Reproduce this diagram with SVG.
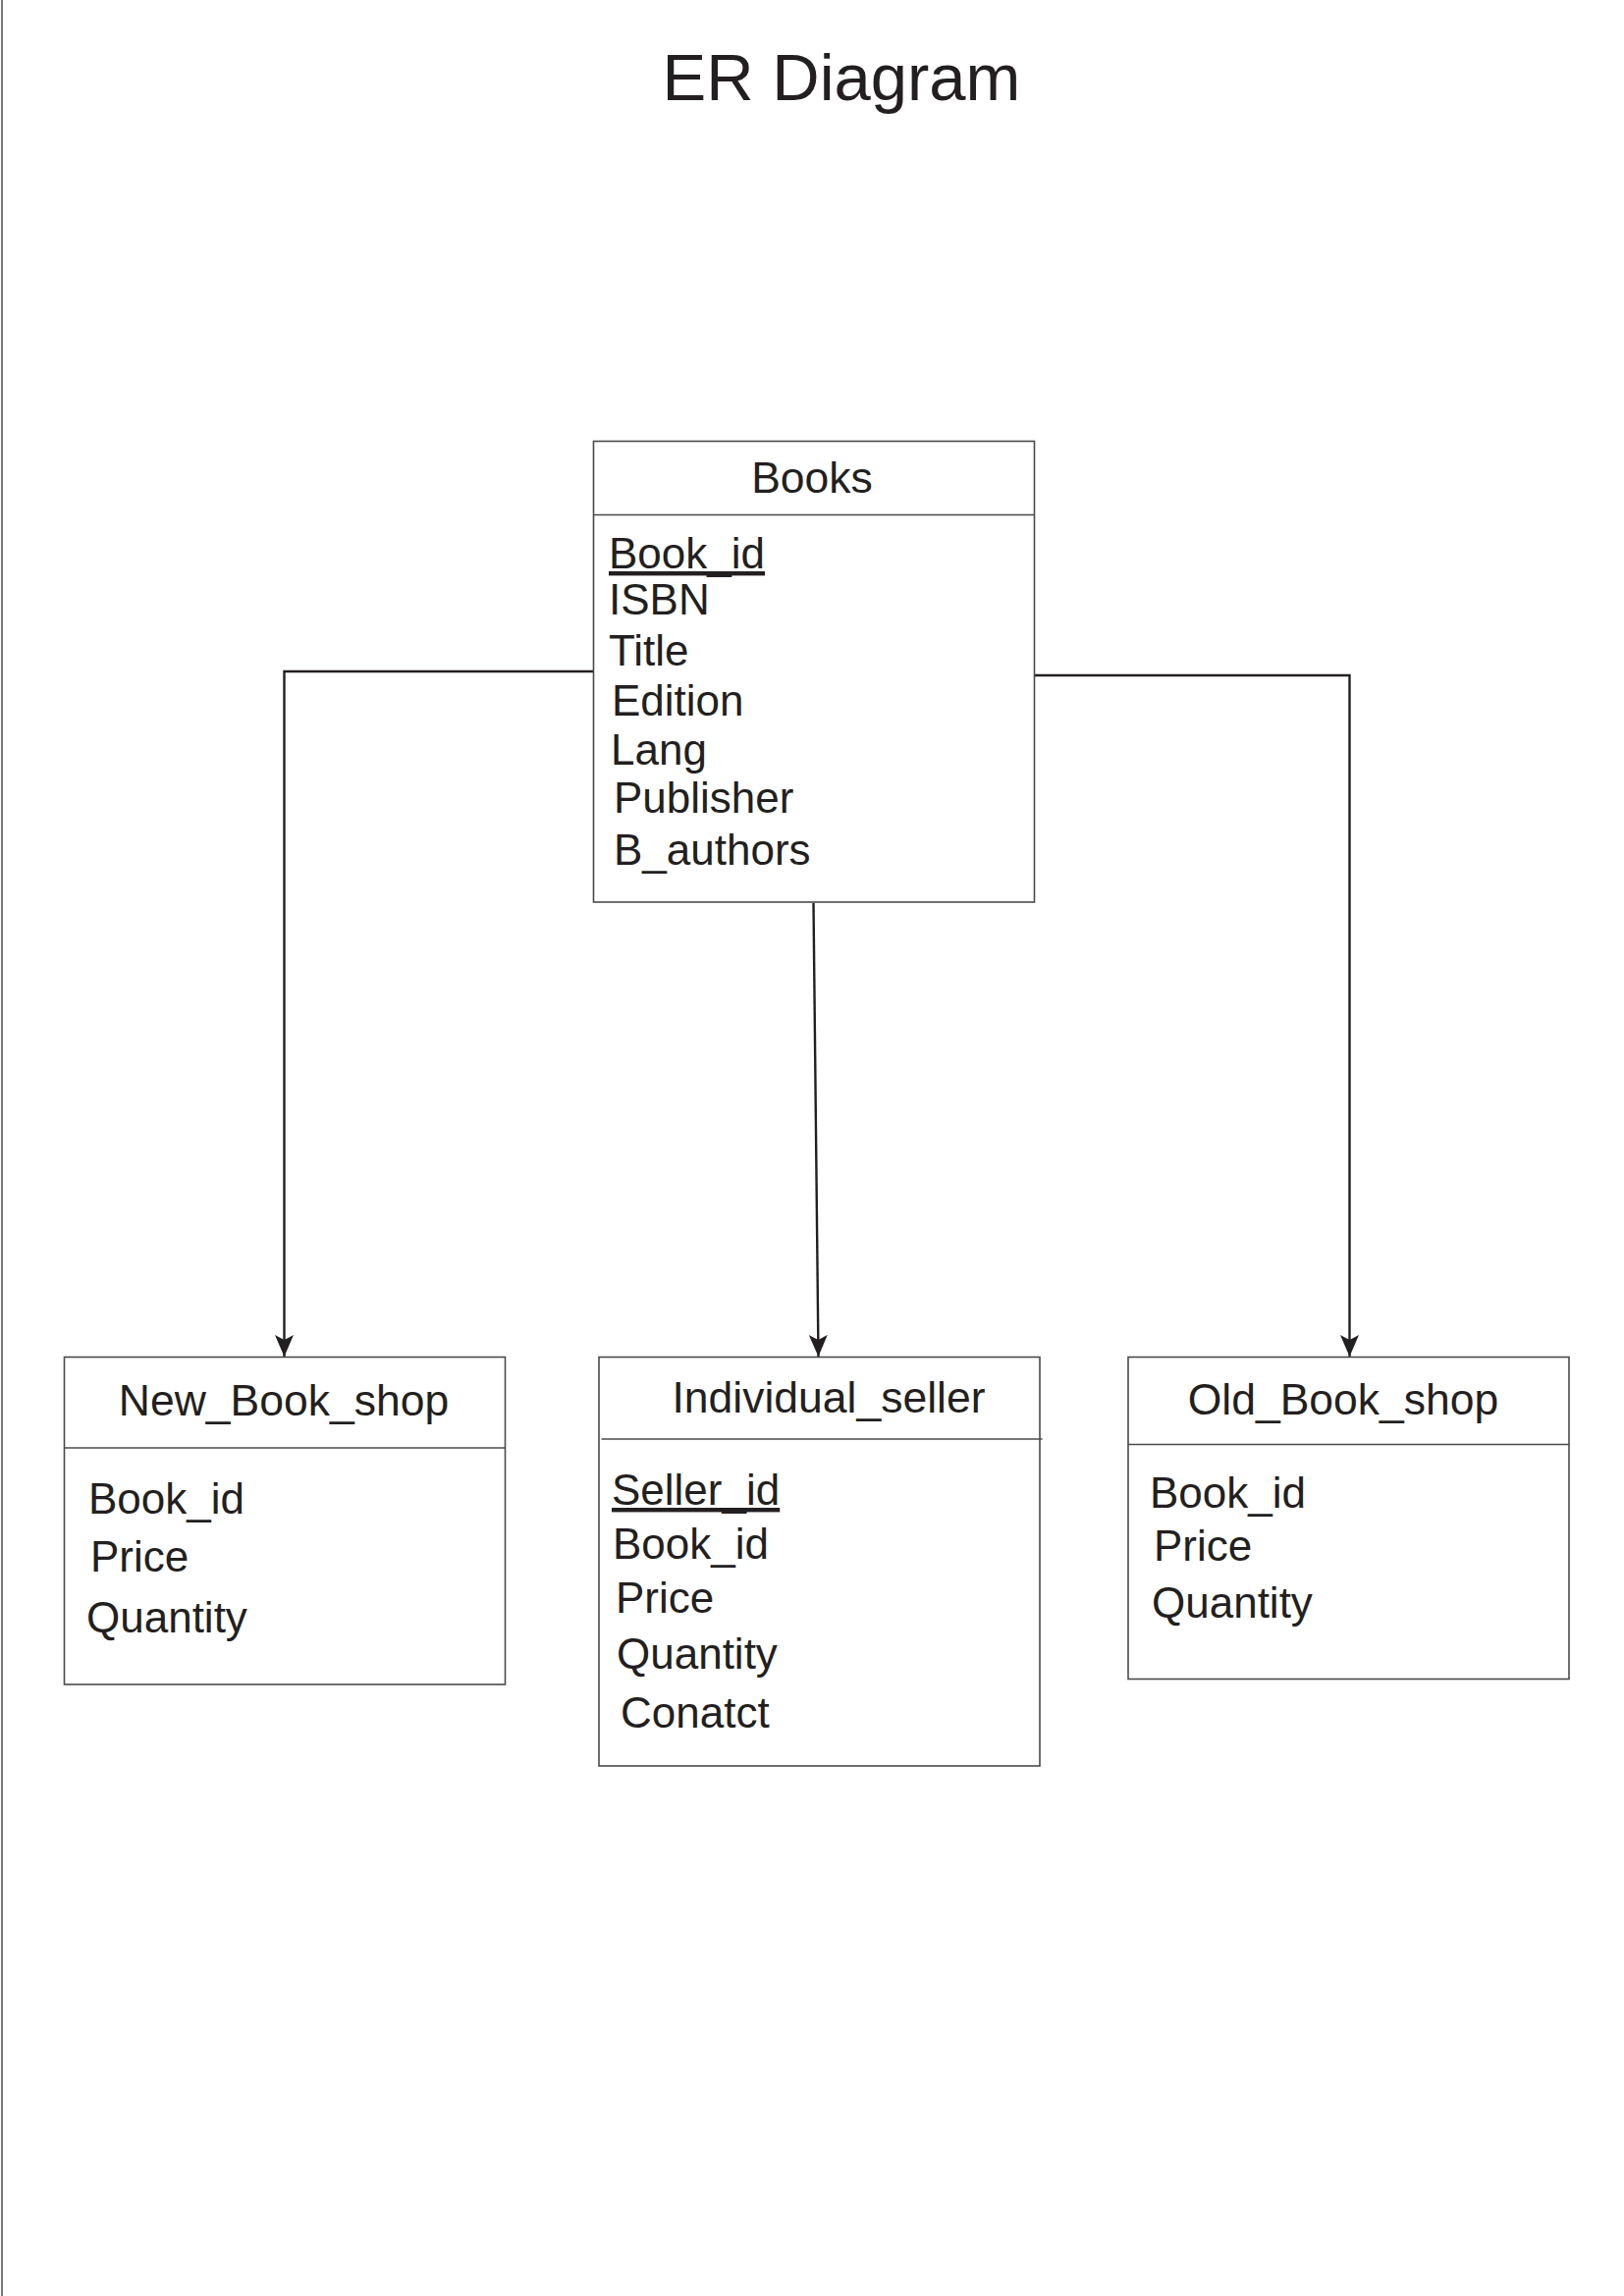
<svg xmlns="http://www.w3.org/2000/svg" width="1654" height="2339" viewBox="0 0 1654 2339">
<style>
  text { font-family: "Liberation Sans", Arial, sans-serif; fill: #231f20; }
  .title { font-size: 67px; }
  .hdr { font-size: 44.5px; text-anchor: middle; }
  .attr { font-size: 44px; }
  .pk { text-decoration: underline; }
  .box { fill: #ffffff; stroke: #4a4a4a; stroke-width: 1.6; }
  .div { stroke: #4a4a4a; stroke-width: 1.6; fill: none; }
  .conn { stroke: #231f20; stroke-width: 2.4; fill: none; }
</style>
<defs>
  <marker id="arrowDown" markerUnits="userSpaceOnUse" markerWidth="22" markerHeight="20" viewBox="0 0 22 20" refX="22" refY="9.5" orient="auto">
    <path d="M0,0 L22,9.5 L0,19 L5,9.5 Z" fill="#231f20"/>
  </marker>
</defs>
<rect x="0" y="0" width="1654" height="2339" fill="#ffffff"/>
<line x1="2" y1="0" x2="2" y2="2339" stroke="#4a4a4a" stroke-width="1.5"/>

<text class="title" x="857" y="102" text-anchor="middle">ER Diagram</text>

<g id="connectors">
  <polyline class="conn" points="604,684 289.5,684 289.5,1382" marker-end="url(#arrowDown)"/>
  <polyline class="conn" points="1054,688 1374.5,688 1374.5,1382" marker-end="url(#arrowDown)"/>
  <line class="conn" x1="828.5" y1="920" x2="833.5" y2="1382" marker-end="url(#arrowDown)"/>
</g>

<g id="books">
  <rect class="box" x="604.5" y="449.5" width="449" height="469.5"/>
  <line class="div" x1="604.5" y1="524.5" x2="1053.5" y2="524.5"/>
  <text class="hdr" x="827" y="502">Books</text>
  <text class="attr pk" x="620" y="579">Book_id</text>
  <text class="attr" x="620" y="626">ISBN</text>
  <text class="attr" x="620" y="678">Title</text>
  <text class="attr" x="623" y="729">Edition</text>
  <text class="attr" x="622" y="779">Lang</text>
  <text class="attr" x="625" y="828">Publisher</text>
  <text class="attr" x="625" y="881">B_authors</text>
</g>

<g id="new_book_shop">
  <rect class="box" x="65.5" y="1382.5" width="449" height="333.5"/>
  <line class="div" x1="65.5" y1="1475" x2="514.5" y2="1475"/>
  <text class="hdr" x="289" y="1442">New_Book_shop</text>
  <text class="attr" x="90" y="1542">Book_id</text>
  <text class="attr" x="92" y="1601">Price</text>
  <text class="attr" x="88" y="1663">Quantity</text>
</g>

<g id="individual_seller">
  <rect class="box" x="610" y="1382.5" width="449" height="416.5"/>
  <line class="div" x1="612.5" y1="1466" x2="1061.5" y2="1466"/>
  <text class="hdr" x="844" y="1439">Individual_seller</text>
  <text class="attr pk" x="623" y="1533">Seller_id</text>
  <text class="attr" x="624" y="1588">Book_id</text>
  <text class="attr" x="627" y="1643">Price</text>
  <text class="attr" x="628" y="1700">Quantity</text>
  <text class="attr" x="632" y="1760">Conatct</text>
</g>

<g id="old_book_shop">
  <rect class="box" x="1149" y="1382.5" width="449" height="328"/>
  <line class="div" x1="1149" y1="1471.5" x2="1598" y2="1471.5"/>
  <text class="hdr" x="1368" y="1441">Old_Book_shop</text>
  <text class="attr" x="1171" y="1536">Book_id</text>
  <text class="attr" x="1175" y="1590">Price</text>
  <text class="attr" x="1173" y="1648">Quantity</text>
</g>
</svg>
